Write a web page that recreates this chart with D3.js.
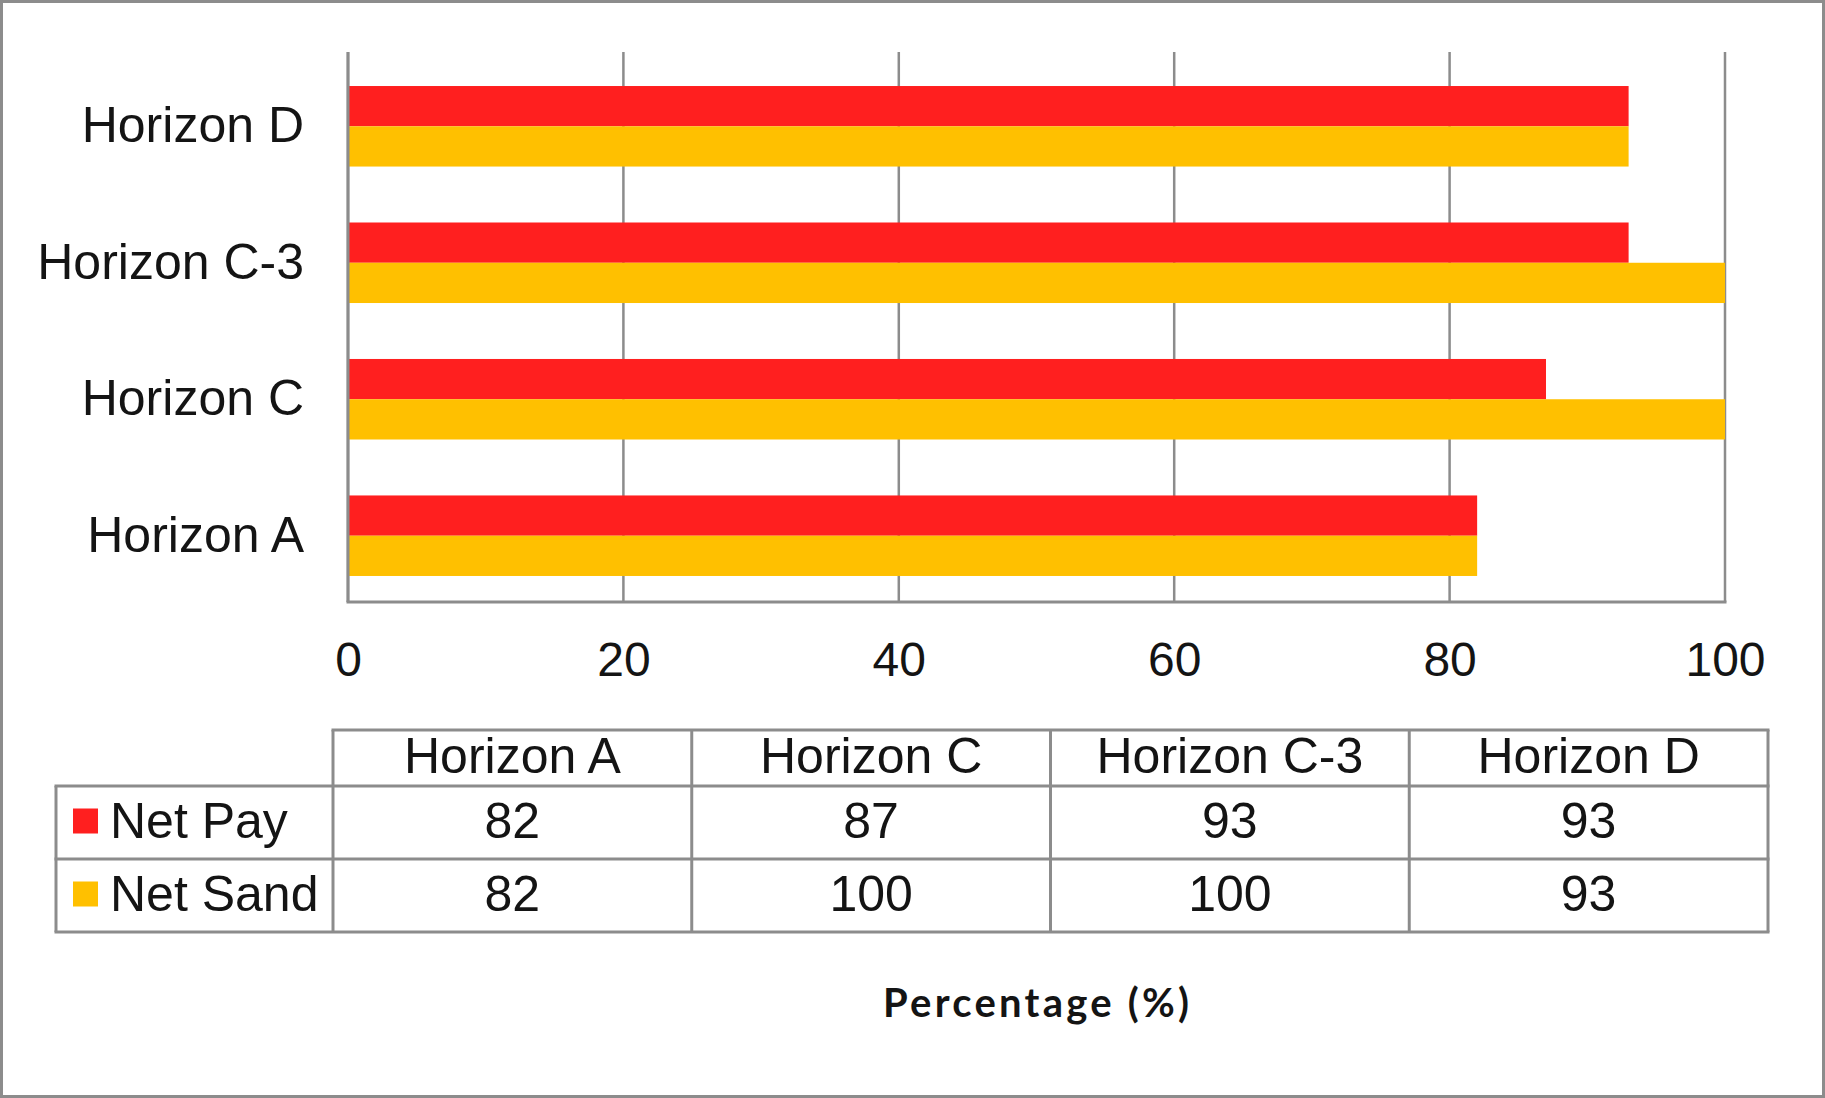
<!DOCTYPE html>
<html>
<head>
<meta charset="utf-8">
<script src="https://cdn.jsdelivr.net/npm/d3@7"></script>
<style>
  html, body { margin: 0; padding: 0; background: #fff; }
  svg { display: block; }
</style>
</head>
<body>
<svg id="chart" width="1825" height="1098"></svg>
<script>
// Horizons, top-to-bottom in the bar plot
const horizons = ["Horizon D", "Horizon C-3", "Horizon C", "Horizon A"];
// Column order in the data table underneath
const tableColumns = ["Horizon A", "Horizon C", "Horizon C-3", "Horizon D"];
const seriesNames = ["Net Pay", "Net Sand"];
const seriesColors = ["#FF1F1F", "#FFC000"];
// Percentages per horizon, in tableColumns order
const netPay = [82, 87, 93, 93];
const netSand = [82, 100, 100, 93];
const xTicks = [0, 20, 40, 60, 80, 100];
const axisTitle = "Percentage (%)";

const seriesValues = [netPay, netSand];
const rows = [];
tableColumns.forEach((h, i) => {
  seriesNames.forEach((s, j) => rows.push({ horizon: h, series: s, value: seriesValues[j][i], si: j }));
});

const svg = d3.select("#chart");
const W = 1825, H = 1098;
const gridColor = "#8c8c8c";
const textColor = "#141414";
const font = "'Liberation Sans', Arial, sans-serif";

// outer frame
svg.append("rect")
  .attr("x", 1.5).attr("y", 1.5).attr("width", W - 3).attr("height", H - 3)
  .attr("fill", "#fff").attr("stroke", gridColor).attr("stroke-width", 3);

const plot = { left: 348, right: 1725, top: 52, bottom: 602 };

const x = d3.scaleLinear().domain([0, 100]).range([plot.left, plot.right]);
const y = d3.scaleBand().domain(horizons).range([plot.top + 4, plot.bottom + 4])
  .paddingInner(0.41).paddingOuter(0.22);
const ySeries = d3.scaleBand().domain(seriesNames).range([0, y.bandwidth()]);
const color = d3.scaleOrdinal().domain(seriesNames).range(seriesColors);

// vertical gridlines
svg.append("g")
  .selectAll("line").data(xTicks).join("line")
  .attr("x1", d => x(d)).attr("x2", d => x(d))
  .attr("y1", plot.top).attr("y2", plot.bottom)
  .attr("stroke", gridColor).attr("stroke-width", 2.5);

// bars
svg.append("g")
  .selectAll("rect").data(rows).join("rect")
  .attr("x", x(0))
  .attr("y", d => y(d.horizon) + ySeries(d.series))
  .attr("width", d => x(d.value) - x(0))
  .attr("height", ySeries.bandwidth())
  .attr("fill", d => color(d.series));

// axis baselines
svg.append("line")
  .attr("x1", plot.left).attr("x2", plot.left)
  .attr("y1", plot.top).attr("y2", plot.bottom)
  .attr("stroke", gridColor).attr("stroke-width", 3);
svg.append("line")
  .attr("x1", plot.left - 1.5).attr("x2", plot.right + 1.5)
  .attr("y1", plot.bottom).attr("y2", plot.bottom)
  .attr("stroke", gridColor).attr("stroke-width", 3);

// x axis tick labels
const xAxis = d3.axisBottom(x).tickValues(xTicks).tickSize(0).tickPadding(0);
const gx = svg.append("g").attr("transform", `translate(0,${plot.bottom + 40})`).call(xAxis);
gx.select(".domain").remove();
gx.selectAll("text")
  .attr("dy", "0.71em")
  .attr("fill", textColor)
  .style("font-family", font).style("font-size", "48px");

// y axis category labels
const yAxis = d3.axisLeft(y).tickSize(0).tickPadding(0);
const gy = svg.append("g").attr("transform", `translate(${plot.left - 44},0)`).call(yAxis);
gy.select(".domain").remove();
gy.selectAll("text")
  .attr("fill", textColor)
  .style("font-family", font).style("font-size", "50px");

// data table
const table = { left: 56, colStart: 333, right: 1768, top: 730, headBottom: 786, rowH: 73 };
const col = d3.scaleBand().domain(tableColumns).range([table.colStart, table.right]);
const rowY = d3.scaleBand().domain(seriesNames).range([table.headBottom, table.headBottom + 2 * table.rowH]);
const tg = svg.append("g");
const tableBottom = table.headBottom + 2 * table.rowH;

const hLines = [
  { y: table.top, x1: table.colStart, x2: table.right },
  { y: table.headBottom, x1: table.left, x2: table.right },
  { y: table.headBottom + table.rowH, x1: table.left, x2: table.right },
  { y: tableBottom, x1: table.left, x2: table.right }
];
tg.selectAll("line.h").data(hLines).join("line").attr("class", "h")
  .attr("x1", d => d.x1 - 1.5).attr("x2", d => d.x2 + 1.5)
  .attr("y1", d => d.y).attr("y2", d => d.y)
  .attr("stroke", gridColor).attr("stroke-width", 3);

const vLines = [
  { x: table.left, y1: table.headBottom },
  ...tableColumns.map(c => ({ x: col(c), y1: table.top })),
  { x: table.right, y1: table.top }
];
tg.selectAll("line.v").data(vLines).join("line").attr("class", "v")
  .attr("x1", d => d.x).attr("x2", d => d.x)
  .attr("y1", d => d.y1).attr("y2", tableBottom)
  .attr("stroke", gridColor).attr("stroke-width", 3);

// header labels
tg.selectAll("text.head").data(tableColumns).join("text").attr("class", "head")
  .attr("x", d => col(d) + col.bandwidth() / 2)
  .attr("y", (table.top + table.headBottom) / 2)
  .attr("dy", "0.3em").attr("text-anchor", "middle")
  .attr("fill", textColor)
  .style("font-family", font).style("font-size", "50px")
  .text(d => d);

// legend keys and series names
const legendRows = tg.selectAll("g.series").data(seriesNames).join("g").attr("class", "series");
legendRows.append("rect")
  .attr("x", 73).attr("y", d => rowY(d) + rowY.bandwidth() / 2 - 14)
  .attr("width", 25).attr("height", 25)
  .attr("fill", d => color(d));
legendRows.append("text")
  .attr("x", 110).attr("y", d => rowY(d) + rowY.bandwidth() / 2)
  .attr("dy", "0.3em")
  .attr("fill", textColor)
  .style("font-family", font).style("font-size", "50px")
  .text(d => d);

// cell values
tg.selectAll("text.cell").data(rows).join("text").attr("class", "cell")
  .attr("x", d => col(d.horizon) + col.bandwidth() / 2)
  .attr("y", d => rowY(d.series) + rowY.bandwidth() / 2)
  .attr("dy", "0.3em").attr("text-anchor", "middle")
  .attr("fill", textColor)
  .style("font-family", font).style("font-size", "50px")
  .text(d => d.value);

// axis title
svg.append("text")
  .attr("x", 1036)
  .attr("y", 1003)
  .attr("dy", "0.36em").attr("text-anchor", "middle")
  .attr("fill", textColor)
  .attr("textLength", 306).attr("lengthAdjust", "spacing")
  .style("font-family", "Lato, 'Open Sans', sans-serif")
  .style("font-weight", "bold").style("font-size", "40px")
  .text(axisTitle);
</script>
</body>
</html>
